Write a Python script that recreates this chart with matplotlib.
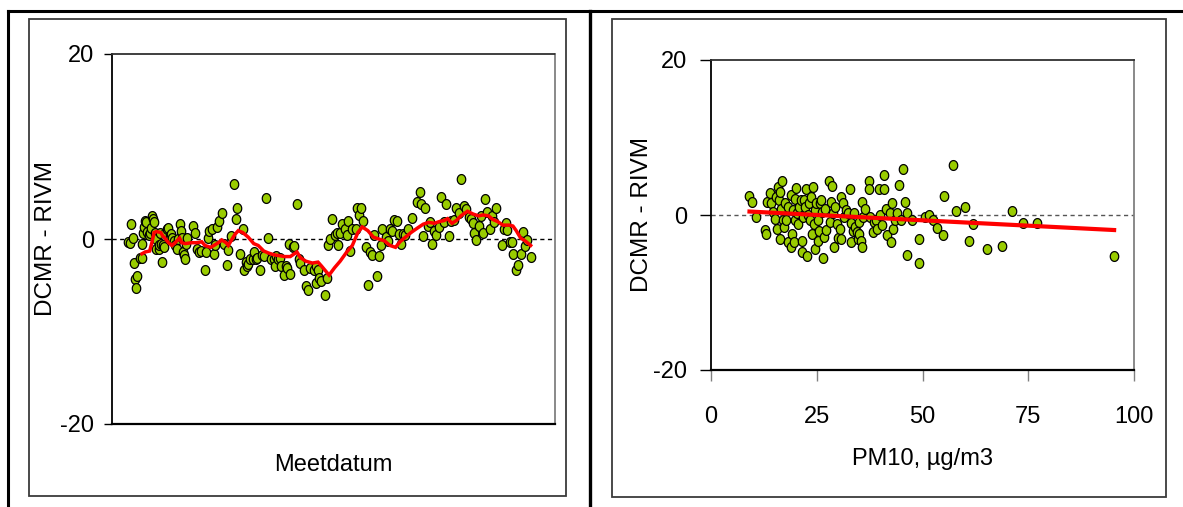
import numpy as np
import matplotlib
matplotlib.use("Agg")
import matplotlib.pyplot as plt
from matplotlib.path import Path
from matplotlib.patches import Rectangle
from matplotlib.lines import Line2D
from matplotlib import font_manager

# ---------------- data: left panel (time series) ----------------
meet_day = [14, 16, 17, 19, 20, 21, 22, 23, 25, 27, 27, 28, 29, 30, 31, 32, 33, 34, 35, 36,
            37, 38, 39, 40, 40, 42, 42, 43, 44, 45, 46, 47, 48, 50, 51, 52, 53, 54, 56, 57,
            59, 60, 61, 62, 63, 64, 65, 66, 67, 68, 73, 75, 77, 79, 80, 84, 85, 87, 88, 90,
            92, 93, 95, 97, 99, 101, 104, 105, 107, 110, 112, 113, 116, 118, 119, 121, 122, 123, 125, 127,
            128, 130, 131, 134, 135, 137, 139, 141, 144, 146, 147, 148, 150, 152, 153, 155, 157, 158, 160, 161,
            163, 164, 167, 169, 170, 173, 175, 177, 179, 182, 184, 184, 186, 187, 189, 192, 194, 195, 197, 199,
            201, 203, 204, 206, 208, 210, 212, 213, 215, 217, 220, 221, 223, 225, 227, 229, 231, 233, 235, 237,
            239, 241, 243, 244, 247, 249, 251, 253, 255, 257, 259, 261, 263, 265, 267, 271, 275, 278, 279, 281,
            283, 285, 287, 289, 291, 293, 295, 297, 300, 302, 304, 306, 309, 311, 313, 315, 318, 320, 322, 324,
            326, 327, 329, 331, 333, 335, 337, 339, 341, 343, 345, 347, 352, 354, 356, 357, 359, 361, 362, 365,
            367, 369, 371, 373, 375, 378]
meet_diff = [-0.3, -0.4, 1.6, 0.1, -2.6, -4.3, -5.3, -4.0, -2.1, -0.5, -2.1, 0.7, 1.3, 1.9, 1.8, 0.8, 0.4, 0.7, 1.2, 2.5,
             2.2, 1.8, 0.7, 0.0, -1.1, -1.1, -0.7, 0.7, -0.5, -2.5, -0.7, -0.9, 0.7, 1.1, 1.2, 0.3, 0.5, 0.1, -0.2, -0.7,
             -1.1, 0.0, 1.6, 0.9, 0.1, -1.4, -1.7, -2.2, -0.5, 0.1, 1.4, 0.7, -1.1, -1.4, -1.3, -3.3, -1.4, 0.1, 0.9, 1.1,
             -1.6, -0.7, 1.3, 2.0, 2.8, -0.5, -2.8, -1.2, 0.3, 6.0, 2.2, 3.3, -1.6, 1.1, -3.3, -2.5, -2.9, -2.7, -2.2, -2.2,
             -1.4, -2.2, -2.1, -3.3, -1.7, -1.8, 4.4, 0.1, -2.2, -2.2, -2.9, -1.8, -2.2, -2.0, -2.9, -3.9, -2.9, -3.1, -0.5, -3.8,
             -0.9, -0.8, 3.8, -2.2, -2.6, -3.3, -5.1, -5.5, -3.1, -3.4, -4.8, -2.9, -3.3, -4.2, -4.5, -6.0, -4.2, -0.7, 0.0, 2.2,
             0.4, 0.7, -0.7, 0.7, 1.6, 1.1, 0.4, 1.9, -1.3, 1.1, 1.1, 3.4, 2.6, 3.3, 2.0, -0.9, -5.0, -1.4, -1.7, 0.4,
             -4.0, -1.8, -0.7, 1.1, 0.2, -0.2, 1.1, 0.9, 2.1, 2.0, 0.5, -0.5, 0.5, 0.4, 1.1, 2.3, 4.0, 5.1, 3.8, 0.3,
             3.4, 1.4, 1.8, -0.5, 0.9, 0.4, 1.3, 4.5, 1.8, 3.8, 0.3, 1.9, 2.1, 3.4, 2.8, 6.5, 3.6, 3.2, 2.4, 2.2,
             1.7, 0.7, -0.1, 1.4, 2.5, 0.7, 4.3, 2.9, 1.1, 2.5, 1.8, 3.4, -0.7, 1.1, 1.7, 1.0, -0.3, -0.3, -1.6, -3.3,
             -2.8, -1.6, 0.8, -0.8, -0.1, -1.9]

# moving average (red line)
avg_day = [27, 30, 34, 36, 38, 40, 44, 46, 47, 51, 54, 57, 61, 63, 66, 72, 77, 81, 84, 89,
           92, 96, 99, 103, 105, 109, 111, 114, 118, 123, 128, 132, 137, 141, 146, 151, 156, 161, 167, 170,
           175, 181, 186, 189, 196, 201, 206, 212, 217, 222, 226, 231, 236, 241, 246, 251, 256, 260, 265, 270,
           276, 281, 286, 291, 296, 300, 303, 307, 311, 315, 321, 326, 331, 335, 340, 344, 348, 353, 359, 362,
           365, 369, 373, 378]
avg_diff = [-1.6, -1.4, -1.3, -0.4, 0.7, 0.8, 0.7, 0.3, 0.2, -0.4, -0.7, -0.4, 0.1, -0.4, -0.5, -0.4, -0.4, -0.3, -0.7, -0.9,
            -0.7, -0.4, -0.1, -0.4, -0.7, 0.1, 0.5, 0.9, 0.7, 0.2, -0.5, -0.7, -1.3, -1.5, -1.7, -1.8, -1.9, -1.9, -1.4, -2.0,
            -2.4, -2.6, -2.5, -2.9, -3.9, -3.1, -2.4, -1.4, -0.7, 0.7, 1.3, 0.9, 0.2, 0.0, -0.2, -0.7, -0.9, -0.3, 0.2, 0.7,
            1.2, 1.6, 1.8, 1.7, 1.9, 2.0, 2.2, 1.7, 2.0, 2.5, 3.0, 2.7, 2.5, 2.6, 2.5, 2.1, 1.9, 1.5, 1.5, 1.4,
            0.9, 0.1, -0.2, -0.7]

# ---------------- data: right panel (vs PM10) ----------------
pm10 = [9.1, 9.7, 10.6, 12.7, 13.0, 13.3, 14.0, 14.3, 14.7, 15.1, 15.4, 15.6, 15.8, 16.1, 16.3, 16.4, 16.5, 16.8, 17.0, 17.2,
        17.4, 17.7, 18.1, 18.3, 18.8, 18.9, 19.1, 19.4, 19.6, 19.8, 19.9, 20.1, 20.4, 20.6, 20.9, 21.2, 21.4, 21.6, 21.8, 22.1,
        22.3, 22.5, 22.7, 22.9, 23.1, 23.4, 23.7, 23.9, 24.0, 24.3, 24.5, 24.7, 24.9, 25.2, 25.4, 25.6, 25.7, 26.0, 26.3, 26.5,
        26.7, 27.0, 27.3, 27.9, 28.2, 28.4, 28.6, 28.9, 29.1, 29.3, 29.7, 30.0, 30.4, 30.7, 30.8, 31.1, 31.5, 31.9, 32.4, 32.8,
        33.1, 33.2, 33.6, 33.9, 34.1, 34.4, 34.7, 34.9, 35.1, 35.4, 35.7, 35.7, 35.9, 36.3, 37.4, 37.4, 37.7, 38.2, 38.6, 39.1,
        39.3, 39.7, 40.0, 40.4, 40.8, 40.9, 41.3, 41.5, 42.2, 42.6, 42.9, 43.1, 43.5, 44.0, 44.4, 44.9, 45.4, 45.9, 46.3, 46.4,
        47.5, 49.1, 49.2, 50.6, 51.6, 52.5, 53.4, 54.9, 55.2, 57.1, 57.9, 60.1, 61.1, 62.0, 65.3, 68.8, 71.2, 73.7, 77.1, 95.3]
pm_diff = [2.4, 1.7, -0.2, -1.9, -2.4, 1.7, 2.8, 1.5, 0.4, -0.5, 2.3, -1.8, 3.6, 2.0, 3.0, -3.1, 0.8, 4.4, -0.7, -1.6,
           1.5, -0.7, -3.5, 1.0, -4.1, 2.6, -2.4, 0.7, -3.5, -0.7, 2.1, 3.5, 0.2, -1.2, 1.0, 1.9, -4.8, -3.3, -0.2, 1.9,
           1.0, 3.3, -5.3, 0.0, 1.5, -0.7, 2.3, -2.4, 3.6, -1.1, 0.7, -4.4, 1.5, -3.3, -0.7, -2.0, 1.5, 1.9, 0.4, -5.5,
           -2.8, 0.8, -1.9, 4.4, -0.9, 1.7, 3.8, 0.2, -4.1, 1.0, -1.1, -3.0, -1.8, -3.1, 2.3, 1.6, -0.3, 0.6, 0.2, 3.3,
           -1.0, -3.5, -2.0, 0.2, -1.6, -2.2, -3.1, -2.4, -0.9, -3.3, -4.1, 1.7, -0.2, 0.8, 4.4, 3.4, -0.3, -2.2, -0.9, -0.7,
           -1.8, 3.4, 0.0, -1.3, 5.1, 3.4, 0.8, -2.6, 0.2, -3.5, 1.5, -1.8, -0.6, 0.2, 3.9, -0.7, 6.0, 1.7, 0.2, -5.1,
           -0.6, -3.1, -6.2, -0.3, 0.0, -0.7, -1.7, -2.6, 2.5, 6.4, 0.5, 1.0, -3.3, -1.2, -4.4, -4.0, 0.5, -1.0, -1.0, -5.3]
trend_intercept = 0.70
trend_slope = -0.0277

y_ticks = [-20, 0, 20]
x_ticks_pm = [0, 25, 50, 75, 100]

# ---------------- style ----------------
W, H = 1183, 507
fig = plt.figure(figsize=(W / 100, H / 100), dpi=100)
fig.patch.set_facecolor("white")

avail = {f.name for f in font_manager.fontManager.ttflist}
narrow = ["Liberation Sans Narrow", "Liberation Sans"] if "Liberation Sans Narrow" in avail else ["Liberation Sans"]
regular = ["Liberation Sans", "DejaVu Sans"]

green = "#99CC00"
t = np.linspace(0, 2 * np.pi, 48)
ell = Path(np.column_stack([0.86 * np.cos(t), np.sin(t)]), closed=True)
msize = 50


def px_rect(x0, y0, x1, y1):
    return [x0 / W, (H - y1) / H, (x1 - x0) / W, (y1 - y0) / H]


# outer frame and separator
fig.add_artist(Line2D([8 / W, 1.0], [1 - 11 / H] * 2, color="black", lw=2.2, transform=fig.transFigure))
fig.add_artist(Line2D([8 / W] * 2, [0, 1 - 11 / H], color="black", lw=2.2, transform=fig.transFigure))
fig.add_artist(Line2D([590 / W] * 2, [0, 1 - 11 / H], color="black", lw=2.4, transform=fig.transFigure))
# chart boxes
for (x0, y0, x1, y1) in [(29, 19, 566, 496), (612, 19, 1166, 497)]:
    fig.add_artist(Rectangle((x0 / W, (H - y1) / H), (x1 - x0) / W, (y1 - y0) / H,
                             fill=False, ec="#3a3a3a", lw=1.3, transform=fig.transFigure))


def style_axes(ax):
    ax.set_ylim(-20, 20)
    ax.set_yticks(y_ticks)
    ax.set_yticklabels([str(v) for v in y_ticks], family=narrow, fontsize=17)
    ax.spines["left"].set_color("black")
    ax.spines["bottom"].set_color("black")
    ax.spines["left"].set_linewidth(1.3)
    ax.spines["bottom"].set_linewidth(1.6)
    ax.spines["right"].set_color("#808080")
    ax.spines["right"].set_linewidth(1.3)
    ax.spines["top"].set_color("#303030")
    ax.spines["top"].set_linestyle((0, (2, 1)))
    ax.spines["top"].set_linewidth(1.3)
    ax.tick_params(axis="y", direction="out", length=6, width=1, color="black", pad=7)
    ax.axhline(0, color="black", lw=1, ls=(0, (3, 2.5)), zorder=1)
    ax.set_ylabel("DCMR - RIVM", family=regular, fontsize=17.5)


# ---------------- left panel ----------------
ax1 = fig.add_axes(px_rect(112, 54, 555, 424))
style_axes(ax1)
ax1.set_xlim(0, 400)
ax1.set_xticks([])
ax1.scatter(meet_day, meet_diff, s=msize, marker=ell, facecolor=green, edgecolor="black", linewidths=0.9, zorder=3)
ax1.plot(avg_day, avg_diff, color="#ff0000", lw=2.5, zorder=4, solid_joinstyle="miter")
ax1.set_xlabel("Meetdatum", family=narrow, fontsize=17)
ax1.xaxis.label.set_va("center")
ax1.xaxis.set_label_coords(0.5, (424 - 465) / 370)
ax1.yaxis.label.set_va("center")
ax1.yaxis.set_label_coords((46.5 - 112) / 443, 0.5)

# ---------------- right panel ----------------
ax2 = fig.add_axes(px_rect(711, 60, 1134, 370))
style_axes(ax2)
ax2.lines[0].set_color("#555555")
ax2.set_xlim(0, 100)
ax2.set_xticks(x_ticks_pm)
ax2.set_xticklabels([str(v) for v in x_ticks_pm], family=narrow, fontsize=17)
ax2.tick_params(axis="x", direction="out", length=8, width=1, color="#808080", pad=18)
ax2.tick_params(axis="y", length=8, pad=9)
ax2.scatter(pm10, pm_diff, s=msize, marker=ell, facecolor=green, edgecolor="black", linewidths=0.9, zorder=3)
xs = np.array([min(pm10), max(pm10)])
ax2.plot(xs, trend_intercept + trend_slope * xs, color="#ff0000", lw=3, zorder=4)
ax2.set_xlabel("PM10, µg/m3", family=narrow, fontsize=17)
ax2.xaxis.label.set_va("center")
ax2.xaxis.set_label_coords(0.5, (370 - 459) / 310)
ax2.yaxis.label.set_va("center")
ax2.yaxis.set_label_coords((642 - 711) / 423, 0.5)

fig.savefig("out.png", dpi=100)
